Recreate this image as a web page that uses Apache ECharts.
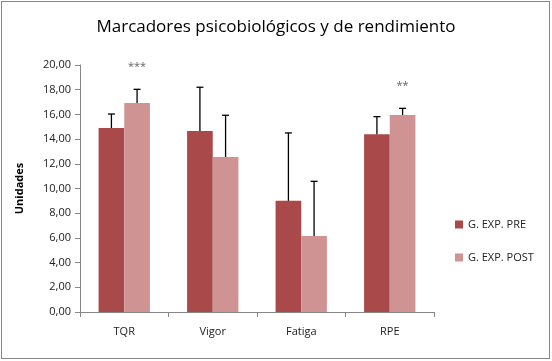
<!DOCTYPE html>
<html>
<head>
<meta charset="utf-8">
<script src="https://cdn.jsdelivr.net/npm/echarts@6/dist/echarts.min.js"></script>
<style>
html,body{margin:0;padding:0;background:#fff;}
#frame{position:absolute;left:1px;top:1px;width:547px;height:356px;border:1px solid #868686;}
#c{position:absolute;left:0;top:0;width:552px;height:361px;}
</style>
</head>
<body>
<div id="frame"></div>
<div id="c"></div>
<script>
const categories = ['TQR', 'Vigor', 'Fatiga', 'RPE'];
const preValues = [14.9, 14.65, 9.0, 14.4];
const postValues = [16.92, 12.55, 6.15, 15.95];
const preErrTop = [16.03, 18.2, 14.5, 15.82];
const postErrTop = [18.03, 15.93, 10.58, 16.49];
const significance = ['***', '', '', '**'];
const yTicks = [0, 2, 4, 6, 8, 10, 12, 14, 16, 18, 20];

const font = '"Open Sans", "Noto Sans", sans-serif';
const chart = echarts.init(document.getElementById('c'), null, {renderer: 'canvas'});

function errRender(seriesIdx, tops, marks) {
  return function (params, api) {
    const i = api.value(0);
    const base = api.value(1);
    const top = api.value(2);
    const size = api.size([1, 0]);
    const bandW = size[0];
    const barW = bandW * 0.29;
    const c = api.coord([i, base]);
    const cx = c[0] + (seriesIdx === 0 ? -barW / 2 : barW / 2);
    const pTop = api.coord([i, top])[1];
    const pBase = c[1];
    const children = [
      {type: 'line', shape: {x1: cx, y1: pBase, x2: cx, y2: pTop}, style: {stroke: '#000', lineWidth: 1.3}},
      {type: 'line', shape: {x1: cx - 3.5, y1: pTop, x2: cx + 3.5, y2: pTop}, style: {stroke: '#000', lineWidth: 1.3}}
    ];
    if (marks && marks[i]) {
      children.push({type: 'text', style: {text: marks[i], x: cx, y: pTop - 22, align: 'center', verticalAlign: 'middle', fill: '#666', font: '11px ' + font}});
    }
    return {type: 'group', children: children};
  };
}

chart.setOption({
  animation: false,
  title: {
    text: 'Marcadores psicobiológicos y de rendimiento',
    left: 'center', top: 14,
    textStyle: {fontFamily: font, fontSize: 17, fontWeight: 'normal', color: '#000'}
  },
  legend: {
    orient: 'vertical', left: 450, top: 214, itemWidth: 8, itemHeight: 8, itemGap: 22,
    icon: 'rect',
    textStyle: {fontFamily: font, fontSize: 11, color: '#222'},
    data: ['G. EXP. PRE', 'G. EXP. POST']
  },
  grid: {left: 80, right: 118, top: 65, bottom: 49},
  xAxis: {
    type: 'category', data: categories,
    axisLine: {lineStyle: {color: '#868686'}},
    axisTick: {show: true, length: 5, alignWithLabel: false, lineStyle: {color: '#868686'}},
    axisLabel: {fontFamily: font, fontSize: 11, color: '#222', margin: 14}
  },
  yAxis: {
    type: 'value', min: 0, max: 20, interval: 2,
    name: 'Unidades', nameLocation: 'middle', nameGap: 55,
    nameTextStyle: {fontFamily: font, fontSize: 11, fontWeight: 'bold', color: '#000'},
    axisLine: {show: true, lineStyle: {color: '#868686'}},
    axisTick: {show: true, length: 5, lineStyle: {color: '#868686'}},
    splitLine: {show: false},
    axisLabel: {fontFamily: font, fontSize: 11, color: '#222', margin: 9,
      formatter: v => v.toFixed(2).replace('.', ',')}
  },
  series: [
    {name: 'G. EXP. PRE', type: 'bar', data: preValues, barWidth: '29%', barGap: '0%', itemStyle: {color: '#A9494A'}},
    {name: 'G. EXP. POST', type: 'bar', data: postValues, barWidth: '29%', barGap: '0%', itemStyle: {color: '#D09393'}},
    {type: 'custom', renderItem: errRender(0, preErrTop, null), z: 10,
      data: categories.map((c, i) => [i, preValues[i], preErrTop[i]])},
    {type: 'custom', renderItem: errRender(1, postErrTop, significance), z: 10,
      data: categories.map((c, i) => [i, postValues[i], postErrTop[i]])}
  ]
});
</script>
</body>
</html>
